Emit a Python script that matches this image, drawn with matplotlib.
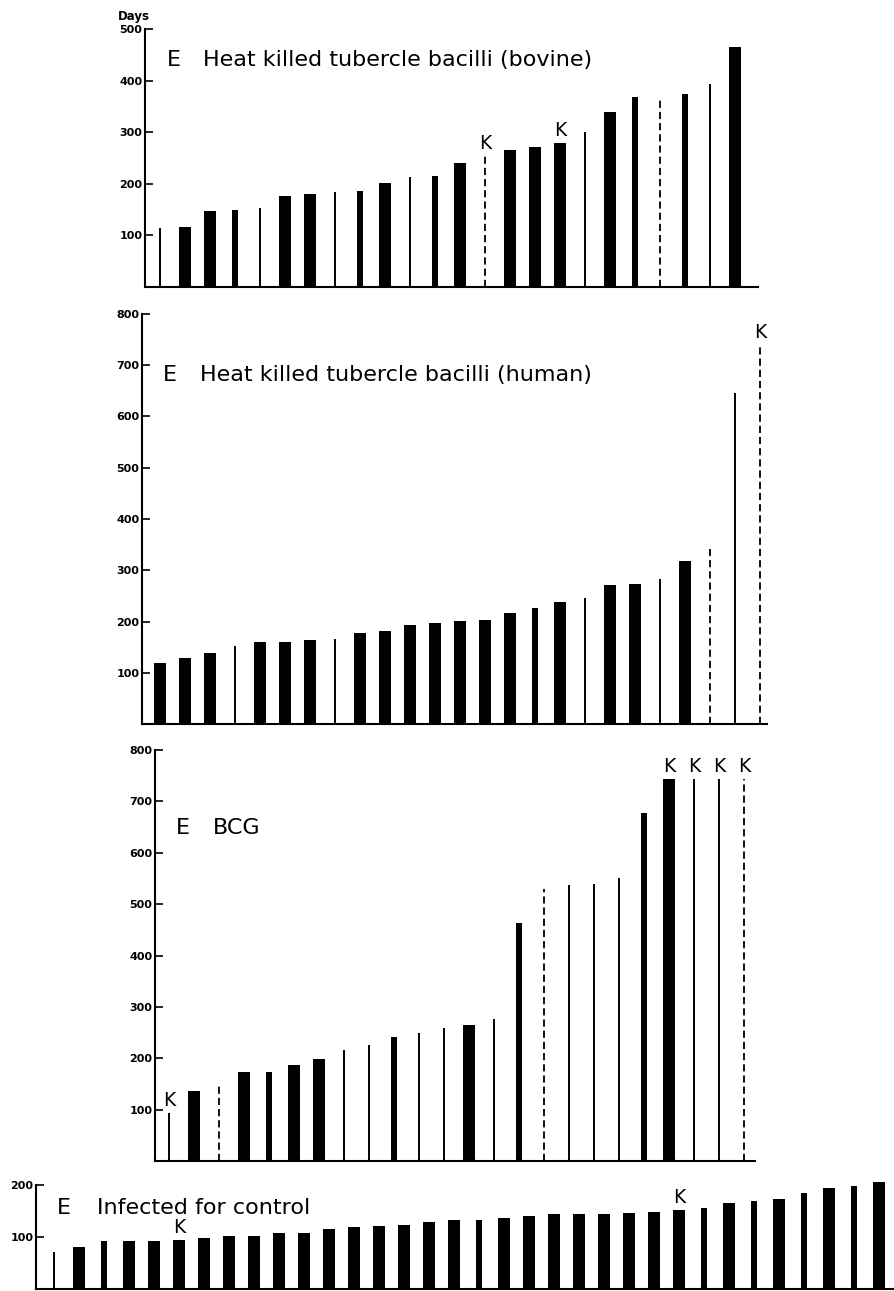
import matplotlib
matplotlib.use("Agg")
import matplotlib.pyplot as plt
import numpy as np

# ---------------- data ----------------
# style codes: T = thick bar, M = medium bar, L = thin line, D = dashed line
bovine_days = [115, 116, 147, 150, 154, 176, 180, 184, 187, 201, 213, 215,
               240, 255, 265, 271, 280, 300, 339, 368, 368, 374, 393, 465]
bovine_style = "LTTMLTTLMTLMTDTTTLTMDMLT"
bovine_k = [13, 16]

human_days = [119, 129, 139, 152, 160, 160, 164, 166, 178, 182, 193, 197, 201,
              203, 217, 227, 238, 246, 271, 273, 283, 318, 342, 645, 740]
human_style = "TTTLTTTLTTTTTTTMTLTTLTDLD"
human_k = [24]

bcg_days = [93, 136, 150, 173, 173, 186, 198, 216, 225, 241, 249, 258,
            264, 276, 464, 530, 538, 540, 550, 678, 744, 744, 744, 744]
bcg_style = "LTDTMTTLLMLLTLMDLLLMTLLD"
bcg_k = [0, 20, 21, 22, 23]

control_days = [72, 81, 92, 92, 92, 94, 98, 102, 102, 107, 107, 115, 119, 121,
                123, 129, 133, 133, 137, 140, 144, 144, 144, 146, 148, 152,
                156, 165, 169, 173, 185, 194, 198, 206]
control_style = "LTM" + "TTTTTTTTTTTTTT" + "M" + "TTTTTTTT" + "MTMTMTMT"
control_k = [5, 25]

titles = ["Heat killed tubercle bacilli (bovine)",
          "Heat killed tubercle bacilli (human)",
          "BCG",
          "Infected for control"]
yticks_top = [[100, 200, 300, 400, 500],
              [100, 200, 300, 400, 500, 600, 700, 800],
              [100, 200, 300, 400, 500, 600, 700, 800],
              [100, 200]]

# ---------------- figure ----------------
W, H = 894, 1291
fig = plt.figure(figsize=(W / 100, H / 100), dpi=100)
fig.patch.set_facecolor("white")


def px_axes(left, right, top, bottom):
    return fig.add_axes([left / W, 1 - bottom / H, (right - left) / W, (bottom - top) / H])


TITLE_FONT = "DejaVu Sans"


def draw_panel(ax, days, style, kidx, ymax, xlim, thick_w=0.5, med_w=0.22):
    x = np.arange(len(days))
    days = np.asarray(days)
    st = np.array(list(style))
    for code, w in (("T", thick_w), ("M", med_w)):
        m = st == code
        ax.bar(x[m], days[m], width=w, color="black", edgecolor="none", clip_on=False)
    m = st == "L"
    ax.vlines(x[m], 0, days[m], color="black", lw=1.4, clip_on=False)
    m = st == "D"
    ax.vlines(x[m], 0, days[m], color="black", lw=1.3, linestyles=(0, (4, 2.2)), clip_on=False)
    for k in kidx:
        ax.annotate("K", (x[k], days[k]), xytext=(0, 2), textcoords="offset points",
                    ha="center", va="bottom", fontsize=13.5, family=TITLE_FONT,
                    annotation_clip=False)
    ax.set_ylim(0, ymax)
    ax.set_xlim(*xlim)
    for s in ("top", "right"):
        ax.spines[s].set_visible(False)
    for s in ("left", "bottom"):
        ax.spines[s].set_linewidth(1.5)
    ax.set_xticks([])
    ax.tick_params(axis="y", direction="in", length=6, width=1.2, pad=2,
                   labelsize=8)


def set_ticks(ax, ticks):
    ax.set_yticks(ticks)
    ax.set_yticklabels([str(v) for v in ticks], fontweight="bold", fontsize=8)


# panel 1: bovine
ax1 = px_axes(145, 758, 29, 287)
draw_panel(ax1, bovine_days, bovine_style, bovine_k, 500, (-0.6, 23.92))
set_ticks(ax1, yticks_top[0])
ax1.text(-0.018, 1.025, "Days", transform=ax1.transAxes, ha="center", va="bottom",
         fontsize=8.5, fontweight="bold")

# panel 2: human
ax2 = px_axes(142, 767, 314, 724)
draw_panel(ax2, human_days, human_style, human_k, 800, (-0.72, 24.28))
set_ticks(ax2, yticks_top[1])

# panel 3: BCG
ax3 = px_axes(155, 755, 750, 1161)
draw_panel(ax3, bcg_days, bcg_style, bcg_k, 800, (-0.56, 23.44))
set_ticks(ax3, yticks_top[2])

# panel 4: control
ax4 = px_axes(36, 893, 1185, 1289)
draw_panel(ax4, control_days, control_style, control_k, 200, (-0.72, 33.56))
set_ticks(ax4, yticks_top[3])

# titles (positions in figure pixels)
title_pos = [((167, 60), (203, 60)),
             ((163, 375), (200, 375)),
             ((176, 828), (213, 828)),
             ((57, 1208), (97, 1208))]
for (ep, tp), t in zip(title_pos, titles):
    fig.text(ep[0] / W, 1 - ep[1] / H, "E", ha="left", va="center",
             fontsize=16, family=TITLE_FONT)
    fig.text(tp[0] / W, 1 - tp[1] / H, t, ha="left", va="center",
             fontsize=16, family=TITLE_FONT)

fig.savefig("out.png", dpi=100, facecolor="white")
